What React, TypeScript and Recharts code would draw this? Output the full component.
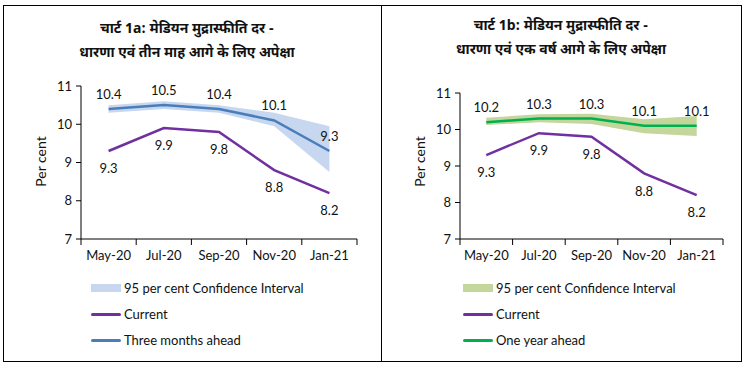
import React from 'react';
import { ComposedChart, Line, Area, XAxis, YAxis, LabelList } from 'recharts';

// survey rounds
const months = ['May-20', 'Jul-20', 'Sep-20', 'Nov-20', 'Jan-21'];

// median inflation perception / expectation (per cent)
const current = [9.3, 9.9, 9.8, 8.8, 8.2];
const threeMonthsAhead = [10.4, 10.5, 10.4, 10.1, 9.3];
const threeMonthsLow = [10.3, 10.4, 10.3, 9.95, 8.75];
const threeMonthsHigh = [10.5, 10.6, 10.5, 10.3, 9.95];
const oneYearAhead = [10.2, 10.3, 10.3, 10.1, 10.1];
const oneYearLow = [10.12, 10.2, 10.15, 9.9, 9.82];
const oneYearHigh = [10.32, 10.42, 10.43, 10.28, 10.37];

const yTicks = [7, 8, 9, 10, 11];

const LATIN = 'Lato, "Open Sans", sans-serif';
const DEVA = '"Noto Sans Devanagari", "Lohit Devanagari", "FreeSans", "Noto Sans", sans-serif';

const COLOR_CURRENT = '#7030A0';

interface PanelProps {
  left: number;
  title1: string;
  title2: string;
  titleTop: number;
  forecast: number[];
  low: number[];
  high: number[];
  lineColor: string;
  bandColor: string;
  forecastName: string;
  plotLeft: number;
  plotTop: number;
  plotRight: number;
  legendLeft: number;
}

const Panel: React.FC<PanelProps> = (p) => {
  const data = months.map((m, i) => ({
    x: i + 0.5,
    month: m,
    current: current[i],
    forecast: p.forecast[i],
    band: [p.low[i], p.high[i]],
  }));
  // boundary ticks at integers, labels at category centres
  const xTicks: number[] = [];
  for (let i = 0; i <= months.length; i++) {
    xTicks.push(i);
    if (i < months.length) xTicks.push(i + 0.5);
  }

  const renderXTick = (props: any) => {
    const { x, y, payload } = props;
    const v = payload.value;
    if (Number.isInteger(v)) {
      return <line x1={x} x2={x} y1={y} y2={y + 6} stroke="#000" strokeWidth={1} />;
    }
    return (
      <text x={x} y={y + 21} textAnchor="middle" fontSize={13} fill="#111" fontFamily={LATIN}>
        {months[Math.floor(v)]}
      </text>
    );
  };

  return (
    <div style={{ position: 'absolute', left: p.left, top: 0, width: 374, height: 280 }}>
      <div
        style={{
          position: 'absolute',
          left: 0,
          width: 374,
          top: p.titleTop,
          textAlign: 'center',
          fontFamily: DEVA,
          fontWeight: 'bold',
          fontSize: 14,
          lineHeight: '24px',
          color: '#111',
        }}
      >
        <div>{p.title1}</div>
        <div>{p.title2}</div>
      </div>
      <div style={{ position: 'absolute', left: 0, top: 0 }}>
        <ComposedChart
          width={374}
          height={280}
          data={data}
          margin={{ top: p.plotTop, right: p.plotRight, bottom: 11, left: 0 }}
        >
          <XAxis
            dataKey="x"
            type="number"
            domain={[0, months.length]}
            ticks={xTicks}
            interval={0}
            tickLine={false}
            tickSize={0}
            tickMargin={0}
            tick={renderXTick}
            axisLine={{ stroke: '#000' }}
            height={30}
          />
          <YAxis
            domain={[7, 11]}
            ticks={yTicks}
            interval={0}
            width={p.plotLeft}
            tickSize={5}
            tickMargin={4}
            tickLine={{ stroke: '#000' }}
            axisLine={{ stroke: '#000' }}
            tick={{ fontSize: 13, fill: '#111', fontFamily: LATIN }}
          />
          <Area
            dataKey="band"
            stroke="none"
            fill={p.bandColor}
            fillOpacity={1}
            isAnimationActive={false}
          />
          <Line
            dataKey="current"
            stroke={COLOR_CURRENT}
            strokeWidth={2.5}
            dot={false}
            isAnimationActive={false}
          >
            <LabelList
              dataKey="current"
              position="bottom"
              offset={13}
              fontSize={13}
              fill="#111"
              fontFamily={LATIN}
            />
          </Line>
          <Line
            dataKey="forecast"
            stroke={p.lineColor}
            strokeWidth={2.5}
            dot={false}
            isAnimationActive={false}
          >
            <LabelList
              dataKey="forecast"
              position="top"
              offset={10}
              fontSize={13}
              fill="#111"
              fontFamily={LATIN}
            />
          </Line>
        </ComposedChart>
      </div>
      <div
        style={{
          position: 'absolute',
          left: p.plotLeft - 81,
          top: 153,
          width: 80,
          textAlign: 'center',
          transform: 'rotate(-90deg)',
          fontFamily: LATIN,
          fontSize: 14,
          color: '#111',
        }}
      >
        Per cent
      </div>
      <Legend left={p.legendLeft} bandColor={p.bandColor} lineColor={p.lineColor} forecastName={p.forecastName} />
    </div>
  );
};

const Legend: React.FC<{ left: number; bandColor: string; lineColor: string; forecastName: string }> = ({
  left,
  bandColor,
  lineColor,
  forecastName,
}) => {
  const row = (swatch: React.ReactNode, label: string, top: number) => (
    <div style={{ position: 'absolute', left, top, height: 20, display: 'flex', alignItems: 'center' }}>
      <div style={{ width: 30, display: 'flex', alignItems: 'center' }}>{swatch}</div>
      <span style={{ marginLeft: 3, fontFamily: LATIN, fontSize: 13, color: '#111', whiteSpace: 'nowrap' }}>
        {label}
      </span>
    </div>
  );
  return (
    <>
      {row(<div style={{ width: 30, height: 8, background: bandColor }} />, '95 per cent Confidence Interval', 278)}
      {row(<div style={{ width: 30, height: 3, background: COLOR_CURRENT, borderRadius: 2 }} />, 'Current', 304)}
      {row(<div style={{ width: 30, height: 3, background: lineColor, borderRadius: 2 }} />, forecastName, 330)}
    </>
  );
};

export default function App() {
  return (
    <div style={{ position: 'absolute', left: 0, top: 0, width: 748, height: 367, background: '#fff', overflow: 'hidden' }}>
      <div
        style={{
          position: 'absolute',
          left: 3,
          top: 5,
          width: 737,
          height: 355,
          border: '1.5px solid #000',
        }}
      />
      <div style={{ position: 'absolute', left: 381, top: 5, width: 0, height: 357, borderLeft: '1.5px solid #000' }} />
      <Panel
        left={0}
        title1="चार्ट 1a: मेडियन मुद्रास्फीति दर -"
        title2="धारणा एवं तीन माह आगे के लिए अपेक्षा"
        titleTop={18}
        forecast={threeMonthsAhead}
        low={threeMonthsLow}
        high={threeMonthsHigh}
        lineColor="#4A7EBB"
        bandColor="#C6D7EF"
        forecastName="Three months ahead"
        plotLeft={81}
        plotTop={86}
        plotRight={17}
        legendLeft={91}
      />
      <Panel
        left={374}
        title1="चार्ट 1b: मेडियन मुद्रास्फीति दर -"
        title2="धारणा एवं एक वर्ष आगे के लिए अपेक्षा"
        titleTop={15}
        forecast={oneYearAhead}
        low={oneYearLow}
        high={oneYearHigh}
        lineColor="#00B050"
        bandColor="#C3D69B"
        forecastName="One year ahead"
        plotLeft={86}
        plotTop={93}
        plotRight={25}
        legendLeft={89}
      />
    </div>
  );
}
